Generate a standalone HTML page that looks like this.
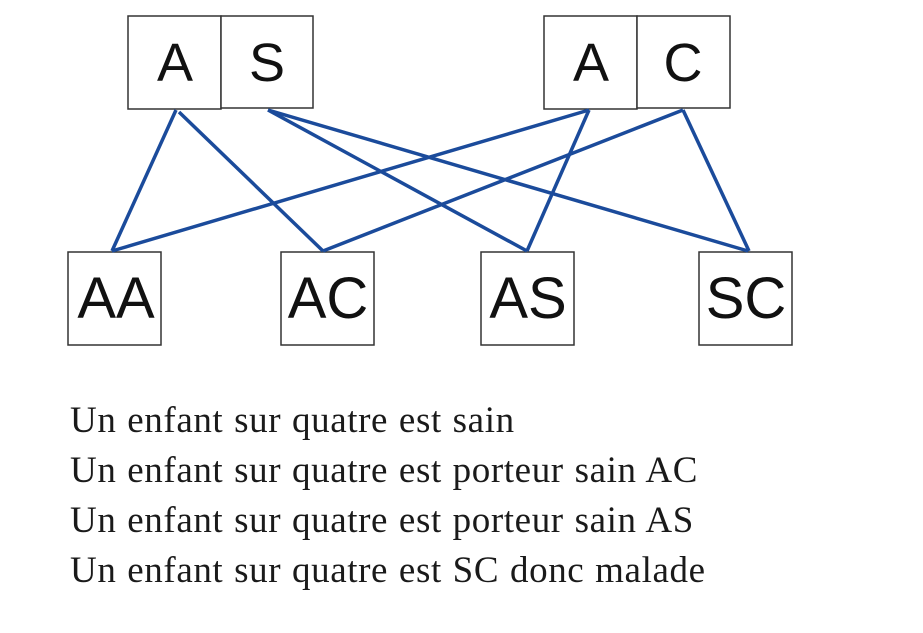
<!DOCTYPE html>
<html><head><style>
body{margin:0;background:#fff;width:923px;height:633px;overflow:hidden}
svg{position:absolute;left:0;top:0}
.t{position:absolute;left:70px;font-family:"Liberation Serif",serif;font-size:37px;letter-spacing:0.6px;word-spacing:1px;color:#1a1a1a;white-space:nowrap}
</style></head><body>
<svg width="923" height="633">
<g fill="#fff" stroke="#333" stroke-width="1.5">
<rect x="128" y="16" width="93" height="93"/><rect x="221" y="16" width="92" height="92"/>
<rect x="544" y="16" width="93" height="93"/><rect x="637" y="16" width="93" height="92"/>
<rect x="68" y="252" width="93" height="93"/><rect x="281" y="252" width="93" height="93"/>
<rect x="481" y="252" width="93" height="93"/><rect x="699" y="252" width="93" height="93"/>
</g>
<g stroke="#1b4b9b" stroke-width="3.5" fill="none">
<line x1="176" y1="110" x2="112" y2="251"/><line x1="179" y1="112" x2="323" y2="251"/>
<line x1="268" y1="110" x2="527" y2="251"/><line x1="268" y1="110" x2="748" y2="251"/>
<line x1="589" y1="110" x2="112" y2="251"/><line x1="589" y1="110" x2="527" y2="251"/>
<line x1="683" y1="110" x2="323" y2="251"/><line x1="683" y1="110" x2="749" y2="251"/>
</g>
<g font-family="Liberation Sans,sans-serif" font-size="54" fill="#111" text-anchor="middle">
<text x="175" y="81">A</text><text x="267" y="81">S</text>
<text x="591" y="81">A</text><text x="683" y="81">C</text>
</g>
<g font-family="Liberation Sans,sans-serif" font-size="58" fill="#111" text-anchor="middle">
<text x="116" y="318">AA</text><text x="328" y="318">AC</text>
<text x="528" y="318">AS</text><text x="746" y="318">SC</text>
</g>
</svg>
<div class="t" style="top:399px">Un enfant sur quatre est sain</div>
<div class="t" style="top:449px">Un enfant sur quatre est porteur sain AC</div>
<div class="t" style="top:499px">Un enfant sur quatre est porteur sain AS</div>
<div class="t" style="top:549px">Un enfant sur quatre est SC donc malade</div>
</body></html>
